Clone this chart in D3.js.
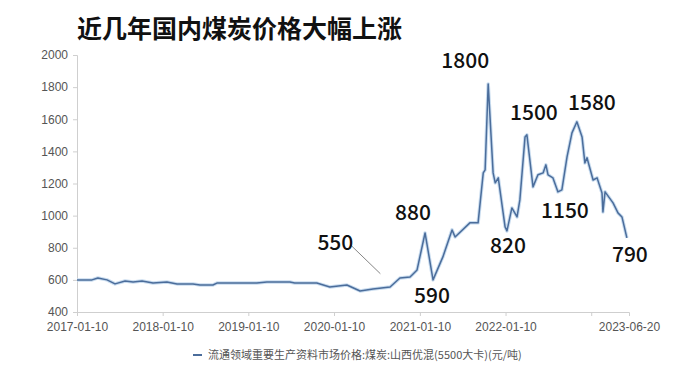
<!DOCTYPE html>
<html>
<head>
<meta charset="utf-8">
<script src="https://cdn.jsdelivr.net/npm/d3@7"></script>
<style>
  body { margin: 0; background: #fff; }
</style>
</head>
<body>
<div id="viz"></div>
<script>
// coal price, Shanxi mixed 5500 kcal (yuan/t)
const dates = [
  '2017-01-10','2017-03-15','2017-04-09','2017-05-18','2017-06-21','2017-08-03','2017-09-06',
  '2017-10-14','2017-11-30','2018-01-28','2018-03-12','2018-05-19','2018-06-18','2018-08-12',
  '2018-08-29','2019-02-15','2019-03-30','2019-07-06','2019-07-27','2019-10-29','2019-12-23',
  '2020-03-05','2020-04-30','2020-06-24','2020-09-05','2020-10-17','2020-11-29','2020-12-29',
  '2021-02-01','2021-03-07','2021-04-18','2021-05-27','2021-06-09','2021-08-11','2021-09-15',
  '2021-10-07','2021-10-15','2021-10-28','2021-11-18','2021-11-27','2021-12-10','2022-01-08',
  '2022-01-16','2022-02-06','2022-02-28','2022-03-12','2022-04-03','2022-04-11','2022-05-07',
  '2022-05-28','2022-06-19','2022-07-01','2022-07-10','2022-07-31','2022-08-21','2022-09-07',
  '2022-09-29','2022-10-20','2022-11-10','2022-12-02','2022-12-14','2022-12-23','2023-01-18',
  '2023-02-04','2023-02-25','2023-03-01','2023-03-10','2023-04-13','2023-05-04','2023-05-21',
  '2023-06-11'
]
const prices = [
  600, 600, 612, 600, 575, 593, 587,
  593, 580, 587, 575, 575, 568, 568,
  580, 580, 587, 587, 580, 580, 556,
  568, 531, 543, 556, 612, 618, 662,
  892, 600, 743, 911, 867, 955, 955,
  1266, 1285, 1820, 1266, 1204, 1235, 930,
  905, 1048, 992, 1098, 1490, 1503, 1179,
  1254, 1266, 1316, 1254, 1235, 1148, 1160,
  1366, 1515, 1584, 1490, 1328, 1360, 1222,
  1235, 1141, 1023, 1148, 1079, 1017, 992,
  861
]

const yTicks = [400, 600, 800, 1000, 1200, 1400, 1600, 1800, 2000]
const xTickDates = ['2017-01-10','2018-01-10','2019-01-10','2020-01-10','2021-01-10','2022-01-10','2023-01-10','2023-06-20']

// callout labels: text and the point they belong to
const noteTexts = ['550', '880', '590', '1800', '820', '1500', '1150', '1580', '790']
const noteDates = ['2020-04-10','2021-02-01','2021-03-07','2021-10-28','2022-01-16','2022-04-11','2022-08-21','2022-11-10','2023-06-11']
const noteValues = [545, 892, 600, 1820, 905, 1503, 1148, 1584, 861]

const title = '近几年国内煤炭价格大幅上涨'
const legendLabel = '流通领域重要生产资料市场价格:煤炭:山西优混(5500大卡)(元/吨)'

const parse = d3.timeParse('%Y-%m-%d')
const data = dates.map((d, i) => ({date: parse(d), value: prices[i]}))

let dimensions = {
  width: 679,
  height: 373,
  margin: {top: 55, right: 50, bottom: 61, left: 77},
}
dimensions.boundedWidth = 629 - dimensions.margin.left
dimensions.boundedHeight = dimensions.height - dimensions.margin.top - dimensions.margin.bottom

const lineColor = '#4b6d9b'
const axisColor = '#cfcfcf'
const labelColor = '#555'

const wrapper = d3.select('#viz')
  .append('svg')
  .attr('width', dimensions.width)
  .attr('height', dimensions.height)
  .style('font-family', '"Liberation Sans", Arial, sans-serif')

const bounds = wrapper.append('g')
  .attr('transform', `translate(${dimensions.margin.left},${dimensions.margin.top})`)

// scales
const xScale = d3.scaleTime()
  .domain([parse('2017-01-10'), parse('2023-06-20')])
  .range([0, dimensions.boundedWidth])

const yScale = d3.scaleLinear()
  .domain([400, 2000])
  .range([dimensions.boundedHeight, 0])

// axes
const yAxis = bounds.append('g')
  .call(d3.axisLeft(yScale).tickValues(yTicks).tickSize(4).tickPadding(5).tickFormat(d3.format('d')))
yAxis.selectAll('path, line').attr('stroke', axisColor)
yAxis.selectAll('text').attr('fill', labelColor).style('font-size', '12px')

const xAxis = bounds.append('g')
  .attr('transform', `translate(0,${dimensions.boundedHeight})`)
  .call(d3.axisBottom(xScale)
    .tickValues(xTickDates.map(parse))
    .tickSize(4)
    .tickPadding(6)
    .tickFormat(d => d3.timeFormat('%Y-%m-%d')(d)))
xAxis.selectAll('path, line').attr('stroke', axisColor)
xAxis.selectAll('text').attr('fill', labelColor).style('font-size', '12px')
// 2023-01-10 only gets a tick, the end date only gets a label
xAxis.selectAll('.tick').filter(d => +d === +parse('2023-01-10')).select('text').remove()
xAxis.selectAll('.tick').filter(d => +d === +parse('2023-06-20')).select('line').remove()

// price line
const lineGenerator = d3.line()
  .x(d => xScale(d.date))
  .y(d => yScale(d.value))

bounds.append('path')
  .attr('d', lineGenerator(data))
  .attr('fill', 'none')
  .attr('stroke', '#c9dcef')
  .attr('stroke-width', 3.5)
  .attr('stroke-linejoin', 'round')

bounds.append('path')
  .attr('d', lineGenerator(data))
  .attr('fill', 'none')
  .attr('stroke', lineColor)
  .attr('stroke-width', 1.5)
  .attr('stroke-linejoin', 'round')

// callouts
const noteOffsets = [[-20, -39], [-12, -13], [-1, 23], [-23, -16], [1, 22], [7, -15], [7, 26], [15, -12], [3, 24]]
const notes = noteTexts.map((t, i) => ({
  text: t,
  x: xScale(parse(noteDates[i])),
  y: yScale(noteValues[i]),
  dx: noteOffsets[i][0],
  dy: noteOffsets[i][1],
}))

// leader line for 550
const n550 = notes[0]
bounds.append('line')
  .attr('x1', n550.x + n550.dx + 15)
  .attr('y1', n550.y + n550.dy - 5)
  .attr('x2', n550.x + 25)
  .attr('y2', n550.y - 15)
  .attr('stroke', '#666')
  .attr('stroke-width', 0.8)

bounds.selectAll('.note')
  .data(notes)
  .join('text')
  .attr('class', 'note')
  .attr('x', d => d.x + d.dx)
  .attr('y', d => d.y + d.dy)
  .attr('text-anchor', 'middle')
  .style('font-family', '"Noto Sans CJK SC", "Noto Sans", sans-serif')
  .style('font-size', '21px')
  .style('font-weight', 500)
  .style('fill', '#111')
  .text(d => d.text)

// title
wrapper.append('text')
  .attr('x', 77)
  .attr('y', 38)
  .style('font-family', '"Noto Sans CJK SC", sans-serif')
  .style('font-size', '25px')
  .style('font-weight', 'bold')
  .style('fill', '#111')
  .text(title)

// legend
const legend = wrapper.append('g')
  .attr('transform', 'translate(193,355)')
legend.append('line')
  .attr('x1', 0).attr('x2', 9)
  .attr('stroke', lineColor)
  .attr('stroke-width', 2)
legend.append('text')
  .attr('x', 15)
  .attr('y', 4)
  .style('font-family', '"Noto Sans CJK SC", sans-serif')
  .style('font-size', '11px')
  .style('fill', labelColor)
  .text(legendLabel)
</script>
</body>
</html>
